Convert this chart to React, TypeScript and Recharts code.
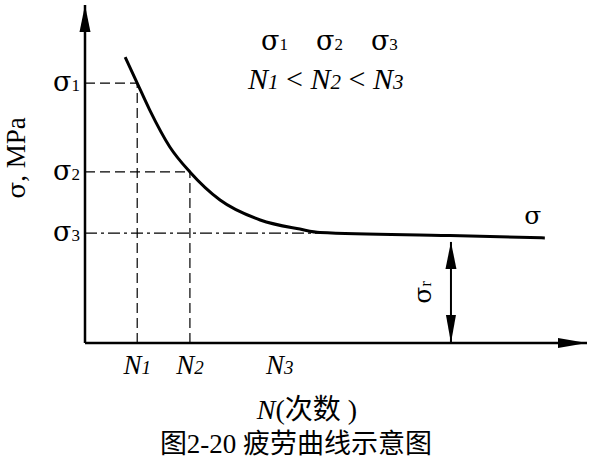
import { ComposedChart, Line, XAxis, YAxis, ReferenceLine, ReferenceDot, Label } from 'recharts'

// S-N (fatigue) curve, both axes in relative units 0..100
const curveN = [8.0, 10.4, 12.9, 16.9, 20.9, 26.9, 34.9, 42.8, 46.8, 72.7, 91.6]
const curveSigma = [84.6, 76.9, 68.9, 58.0, 50.6, 42.3, 36.4, 33.7, 32.7, 31.8, 31.1]

const nTicks = [10.4, 20.9, 38.8]
const nTickSubs = ['1', '2', '3']
const sigmaTicks = [76.9, 50.6, 32.5]
const sigmaTickSubs = ['1', '2', '3']

// end of the dashed σ3 guide, where the curve levels off
const sigma3GuideEnd = 46.8
// endurance limit arrow
const sigmaRN = 72.9
const sigmaRTop = 29.9

const data = curveN.map((n, i) => ({ n, sigma: curveSigma[i] }))

const SERIF = "'Liberation Serif', 'Times New Roman', serif"
const GREEK = "'DejaVu Serif', serif"
const CJK = "'Liberation Serif', 'Noto Sans CJK SC', serif"
const dash = '10 5'

const SigmaTick = ({ x, y, payload }: any) => {
  const i = sigmaTicks.indexOf(payload.value)
  return (
    <text x={x} y={y + 8} textAnchor="end" fontFamily={GREEK} fontSize={27} fill="#000">
      σ<tspan fontFamily={SERIF} fontSize={17}>{sigmaTickSubs[i]}</tspan>
    </text>
  )
}

const NTick = ({ x, y, payload }: any) => {
  const i = nTicks.indexOf(payload.value)
  return (
    <text x={x} y={y + 31} textAnchor="middle" fontFamily={SERIF} fontStyle="italic" fontSize={27} fill="#000">
      N<tspan fontSize={19}>{nTickSubs[i]}</tspan>
    </text>
  )
}

const upArrow = ({ cx, cy }: any) => (
  <polygon points={`${cx},${cy} ${cx - 5.5},${cy + 27} ${cx + 5.5},${cy + 27}`} fill="#000" />
)
const downArrow = ({ cx, cy }: any) => (
  <polygon points={`${cx},${cy} ${cx - 5},${cy - 28} ${cx + 5},${cy - 28}`} fill="#000" />
)
const rightArrow = ({ cx, cy }: any) => (
  <polygon points={`${cx},${cy} ${cx - 29},${cy - 5} ${cx - 29},${cy + 5}`} fill="#000" />
)
const sigmaRLabel = ({ cx, cy }: any) => (
  <text
    x={cx - 20}
    y={cy}
    transform={`rotate(-90 ${cx - 20} ${cy})`}
    textAnchor="middle"
    fontFamily={GREEK}
    fontSize={25}
    fill="#000"
  >
    σ<tspan fontFamily={SERIF} fontSize={16}>r</tspan>
  </text>
)

const endLabel = ({ x, y, index }: any) =>
  index === data.length - 1 ? (
    <text x={x - 12} y={y - 14} textAnchor="middle" fontFamily={GREEK} fontSize={25} fill="#000">
      σ
    </text>
  ) : null

export default function App() {
  return (
    <div style={{ position: 'absolute', left: 0, top: 0, width: 592, height: 463, background: '#fff' }}>
      <ComposedChart width={592} height={463} data={data} margin={{ top: 5, right: 5, left: 0, bottom: 0 }}>
        <XAxis
          type="number"
          dataKey="n"
          domain={[0, 100]}
          ticks={nTicks}
          tick={<NTick />}
          tickLine={false}
          tickSize={0}
          tickMargin={0}
          height={120}
          axisLine={{ stroke: '#000', strokeWidth: 2.5 }}
        >
          <Label
            content={() => (
              <text x={307} y={419} textAnchor="middle" fontFamily={CJK} fontSize={28} fill="#000">
                <tspan fontStyle="italic">N</tspan>(次数 )
              </text>
            )}
          />
        </XAxis>
        <YAxis
          type="number"
          domain={[0, 100]}
          ticks={sigmaTicks}
          tick={<SigmaTick />}
          tickLine={false}
          tickSize={0}
          tickMargin={5}
          width={85}
          axisLine={{ stroke: '#000', strokeWidth: 2.5 }}
        >
          <Label
            content={() => (
              <text
                x={25}
                y={158}
                transform="rotate(-90 25 158)"
                textAnchor="middle"
                fontFamily={SERIF}
                fontSize={27}
                fill="#000"
              >
                <tspan fontFamily={GREEK} fontSize={25}>σ</tspan>, MPa
              </text>
            )}
          />
        </YAxis>

        <ReferenceLine segment={[{ x: 0, y: sigmaTicks[0] }, { x: nTicks[0], y: sigmaTicks[0] }]} stroke="#000" strokeWidth={1.2} strokeDasharray={dash} />
        <ReferenceLine segment={[{ x: nTicks[0], y: 0 }, { x: nTicks[0], y: sigmaTicks[0] }]} stroke="#000" strokeWidth={1.2} strokeDasharray={dash} />
        <ReferenceLine segment={[{ x: 0, y: sigmaTicks[1] }, { x: nTicks[1], y: sigmaTicks[1] }]} stroke="#000" strokeWidth={1.2} strokeDasharray={dash} />
        <ReferenceLine segment={[{ x: nTicks[1], y: 0 }, { x: nTicks[1], y: sigmaTicks[1] }]} stroke="#000" strokeWidth={1.2} strokeDasharray={dash} />
        <ReferenceLine segment={[{ x: 0, y: sigmaTicks[2] }, { x: sigma3GuideEnd, y: sigmaTicks[2] }]} stroke="#000" strokeWidth={1.2} strokeDasharray="12 4 3 4" />

        <ReferenceLine segment={[{ x: sigmaRN, y: 0 }, { x: sigmaRN, y: sigmaRTop }]} stroke="#000" strokeWidth={2} />
        <ReferenceDot x={sigmaRN} y={sigmaRTop} ifOverflow="visible" shape={upArrow} />
        <ReferenceDot x={sigmaRN} y={0} ifOverflow="visible" shape={downArrow} />
        <ReferenceDot x={sigmaRN} y={sigmaRTop / 2} ifOverflow="visible" shape={sigmaRLabel} />

        <ReferenceDot x={0} y={100} ifOverflow="visible" shape={upArrow} />
        <ReferenceDot x={100} y={0} ifOverflow="visible" shape={rightArrow} />

        <Line
          type="monotone"
          dataKey="sigma"
          stroke="#000"
          strokeWidth={3}
          dot={false}
          isAnimationActive={false}
          label={endLabel}
        />
      </ComposedChart>

      <div style={{ position: 'absolute', left: 261, top: 27, fontFamily: SERIF, fontSize: 17, whiteSpace: 'nowrap', lineHeight: 1 }}>
        <span style={{ fontFamily: GREEK, fontSize: 27 }}>σ</span>1
        <span style={{ fontFamily: GREEK, fontSize: 27, marginLeft: 28 }}>σ</span>2
        <span style={{ fontFamily: GREEK, fontSize: 27, marginLeft: 28 }}>σ</span>3
      </div>
      <div style={{ position: 'absolute', left: 248, top: 64, fontFamily: SERIF, fontSize: 30, fontStyle: 'italic', whiteSpace: 'nowrap', lineHeight: 1 }}>
        N<span style={{ fontSize: 21 }}>1</span> <span style={{ fontStyle: 'normal' }}>&lt;</span> N<span style={{ fontSize: 21 }}>2</span>{' '}
        <span style={{ fontStyle: 'normal' }}>&lt;</span> N<span style={{ fontSize: 21 }}>3</span>
      </div>
      <div style={{ position: 'absolute', left: 0, width: 592, top: 431, textAlign: 'center', fontFamily: CJK, fontSize: 27, whiteSpace: 'nowrap', lineHeight: 1 }}>
        图2-20 疲劳曲线示意图
      </div>
    </div>
  )
}
